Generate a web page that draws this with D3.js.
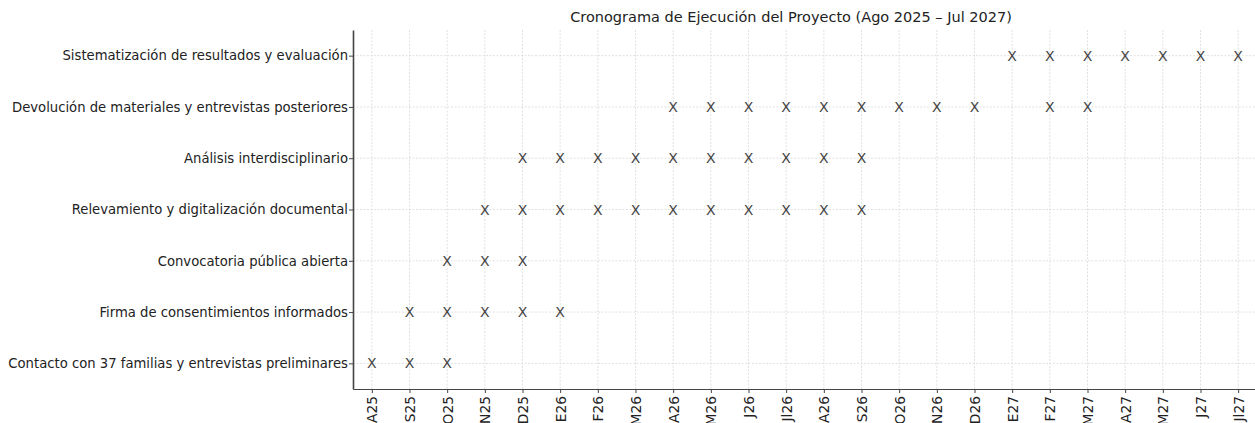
<!DOCTYPE html>
<html>
<head>
<meta charset="utf-8">
<script src="https://cdn.jsdelivr.net/npm/d3@7/dist/d3.min.js"></script>
<style>
  html, body { margin: 0; padding: 0; background: #fff; }
  svg { display: block; font-family: "DejaVu Sans", sans-serif; }
</style>
</head>
<body>
<svg id="chart" width="1255" height="423"></svg>
<script>
const title = "Cronograma de Ejecución del Proyecto (Ago 2025 – Jul 2027)";
const months = ["A25","S25","O25","N25","D25","E26","F26","M26","A26","M26","J26","Jl26",
                "A26","S26","O26","N26","D26","E27","F27","M27","A27","M27","J27","Jl27"];
const activities = [
  "Sistematización de resultados y evaluación",
  "Devolución de materiales y entrevistas posteriores",
  "Análisis interdisciplinario",
  "Relevamiento y digitalización documental",
  "Convocatoria pública abierta",
  "Firma de consentimientos informados",
  "Contacto con 37 familias y entrevistas preliminares"
];
// month indices (0 = A25) in which each activity is active
const schedule = [
  [17,18,19,20,21,22,23],
  [8,9,10,11,12,13,14,15,16,18,19],
  [4,5,6,7,8,9,10,11,12,13],
  [3,4,5,6,7,8,9,10,11,12,13],
  [2,3,4],
  [1,2,3,4,5],
  [0,1,2]
];

const svg = d3.select("#chart");
const m = {left: 353, right: 1257, top: 30, bottom: 389};

const x = d3.scalePoint().domain(d3.range(months.length)).range([m.left, m.right]).padding(0.5);
const y = d3.scalePoint().domain(activities).range([m.top, m.bottom]).padding(0.5);

// grid
const grid = svg.append("g");
grid.selectAll("line.v").data(d3.range(months.length)).join("line")
  .attr("x1", d => x(d)).attr("x2", d => x(d))
  .attr("y1", m.top).attr("y2", m.bottom)
  .attr("stroke", "#d9d9d9").attr("stroke-width", 0.8).attr("stroke-dasharray", "2,1.5");
grid.selectAll("line.h").data(activities).join("line")
  .attr("x1", m.left).attr("x2", m.right)
  .attr("y1", d => y(d)).attr("y2", d => y(d))
  .attr("stroke", "#d9d9d9").attr("stroke-width", 0.8).attr("stroke-dasharray", "2,1.5");

// marks
const marks = [];
schedule.forEach((arr, i) => arr.forEach(j => marks.push({a: activities[i], mo: j})));
svg.append("g").selectAll("text").data(marks).join("text")
  .attr("x", d => x(d.mo)).attr("y", d => y(d.a))
  .attr("dy", "0.36em")
  .attr("text-anchor", "middle")
  .attr("font-size", 14).attr("fill", "#444")
  .text("X");

// axes
const xAxis = svg.append("g").attr("transform", `translate(0,${m.bottom})`)
  .call(d3.axisBottom(x).tickFormat(i => months[i]).tickSize(4).tickSizeOuter(0));
xAxis.select(".domain").attr("stroke", "#444").attr("stroke-width", 1.2);
xAxis.selectAll(".tick line").attr("stroke", "#444");
xAxis.selectAll(".tick text")
  .attr("font-size", 13.8).attr("fill", "#222")
  .attr("transform", "rotate(-90)")
  .attr("text-anchor", "end")
  .attr("x", -7).attr("y", 0).attr("dy", "0.35em");

const yAxis = svg.append("g").attr("transform", `translate(${m.left},0)`)
  .call(d3.axisLeft(y).tickSize(4).tickSizeOuter(0));
yAxis.select(".domain").attr("stroke", "#444").attr("stroke-width", 1.6);
yAxis.selectAll(".tick line").attr("stroke", "#444");
yAxis.selectAll(".tick text").attr("font-size", 13.2).attr("fill", "#222").attr("x", -5);
svg.selectAll(".tick text").attr("font-family", "DejaVu Sans, sans-serif");

// title
svg.append("text").attr("x", 791).attr("y", 22)
  .attr("text-anchor", "middle").attr("font-size", 14.5).attr("fill", "#222")
  .text(title);
</script>
</body>
</html>
